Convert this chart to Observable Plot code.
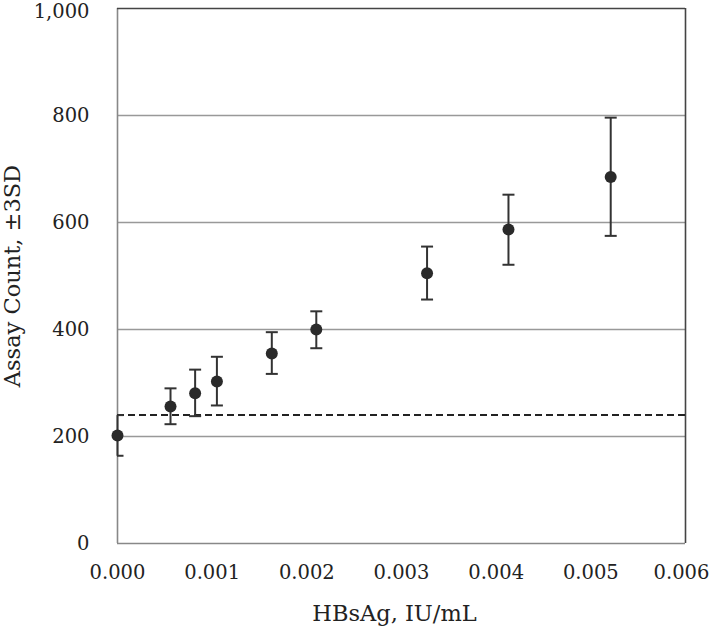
<!DOCTYPE html>
<html>
<head>
<meta charset="utf-8">
<script src="https://cdn.jsdelivr.net/npm/d3@7"></script>
<script src="https://cdn.jsdelivr.net/npm/@observablehq/plot@0.6"></script>
<style>
  html, body { margin: 0; padding: 0; background: #fff; }
  #chart svg { display: block; }
</style>
</head>
<body>
<div id="chart"></div>
<script>
// HBsAg concentration (IU/mL)
const conc = [0.0, 0.00056, 0.00082, 0.00105, 0.00163, 0.00210, 0.00327, 0.00413, 0.00521];
// Mean assay count
const meanCount = [202, 256, 281, 303, 355, 400, 505, 587, 685];
// Lower / upper bound (mean ± 3SD)
const lowCount = [164, 223, 238, 258, 317, 365, 456, 521, 575];
const highCount = [240, 290, 325, 349, 395, 434, 555, 652, 796];
// Cut-off (dashed line)
const cutoff = [240];
const xTicks = [0, 0.001, 0.002, 0.003, 0.004, 0.005, 0.006];
const yTicks = [0, 200, 400, 600, 800, 1000];
const gridValues = [200, 400, 600, 800];

const data = conc.map((c, i) => ({x: c, y: meanCount[i], lo: lowCount[i], hi: highCount[i]}));

const capSymbol = {
  draw(ctx, size) {
    const w = Math.sqrt(size / Math.PI);
    ctx.moveTo(-w, 0);
    ctx.lineTo(w, 0);
  }
};

const font = "DejaVu Serif, serif";

const chart = Plot.plot({
  width: 709,
  height: 626,
  marginLeft: 117,
  marginRight: 24,
  marginTop: 8,
  marginBottom: 83,
  style: {fontFamily: font, fontSize: "20px", color: "#222", background: "#fff"},
  x: {domain: [0, 0.006]},
  y: {domain: [0, 1000]},
  marks: [
    Plot.ruleY(gridValues, {stroke: "#999", strokeWidth: 1.4}),
    Plot.ruleX([0], {stroke: "#888", strokeWidth: 1.6}),
    Plot.ruleY([0], {stroke: "#888", strokeWidth: 1.6}),
    Plot.ruleY([1000], {stroke: "#444", strokeWidth: 1.6}),
    Plot.ruleX([0.006], {stroke: "#444", strokeWidth: 1.6}),
    Plot.ruleY(cutoff, {stroke: "#222", strokeWidth: 2, strokeDasharray: "7,4"}),
    Plot.link(data, {x1: "x", x2: "x", y1: "lo", y2: "hi", stroke: "#333", strokeWidth: 2}),
    Plot.dot(data, {x: "x", y: "lo", symbol: capSymbol, r: 6, stroke: "#333", strokeWidth: 2, clip: true}),
    Plot.dot(data, {x: "x", y: "hi", symbol: capSymbol, r: 6, stroke: "#333", strokeWidth: 2, clip: true}),
    Plot.dot(data, {x: "x", y: "y", r: 6, fill: "#2a2a2a", stroke: "none"}),
    Plot.axisX(xTicks, {tickSize: 0, tickPadding: 22, tickFormat: d3.format(".3f"), fontSize: 20,
      label: "HBsAg, IU/mL", labelAnchor: "center", labelArrow: "none", labelOffset: 77}),
    Plot.axisY(yTicks, {tickSize: 0, tickPadding: 28, tickFormat: d3.format(","), fontSize: 20,
      label: "Assay Count, ±3SD", labelAnchor: "center", labelArrow: "none", labelOffset: 113})
  ]
});

// Styling tweaks: tick label size, axis title size
chart.querySelectorAll("g[aria-label='x-axis tick label'] text, g[aria-label='y-axis tick label'] text")
  .forEach(t => { t.style.fontSize = "19.5px"; t.style.fill = "#222"; });
chart.querySelectorAll("g[aria-label='x-axis label'] text, g[aria-label='y-axis label'] text")
  .forEach(t => { t.style.fontSize = "22.5px"; t.style.fill = "#222"; });
// keep the last x tick label and the top y tick label inside the page
const xt = chart.querySelectorAll("g[aria-label='x-axis tick label'] text");
if (xt.length) xt[xt.length - 1].setAttribute("dx", "-4");
const yt = chart.querySelectorAll("g[aria-label='y-axis tick label'] text");
if (yt.length) yt[yt.length - 1].setAttribute("transform", (yt[yt.length - 1].getAttribute("transform") || "") + " translate(0,3)");
// nudge x-axis title slightly left to match the reference centring
chart.querySelectorAll("g[aria-label='x-axis label'] text").forEach(t => t.setAttribute("dx", "-7"));
document.getElementById("chart").appendChild(chart);
</script>
</body>
</html>
